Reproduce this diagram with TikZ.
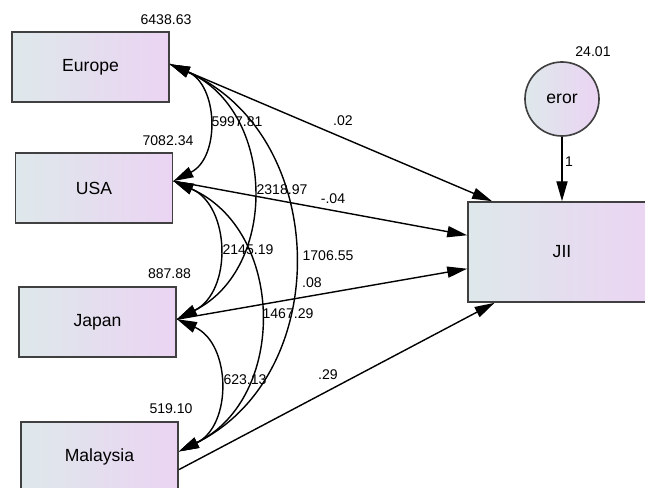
\documentclass[tikz,border=0pt]{standalone}
\usepackage{fontspec}
\setmainfont{Liberation Sans}
\usetikzlibrary{arrows.meta}
\definecolor{cajaIzq}{RGB}{222,232,235}
\definecolor{cajaDer}{RGB}{235,212,243}

\begin{document}
\begin{tikzpicture}[x=0.03cm, y=-0.03cm, >={Triangle[length=17pt,width=9.5pt]}]
      \def\bw{4.72cm}
      \def\bh{2.1cm}
      \tikzset{
        caja/.style={draw=black!75, line width=1.4pt, left color=cajaIzq, right color=cajaDer,
          minimum width=\bw, minimum height=\bh, font=\fontsize{15}{18}\selectfont},
        num/.style={font=\fontsize{12}{14}\selectfont},
        ruta/.style={line width=1.2pt, ->},
        cov/.style={line width=1.2pt, <->, bend left=65, looseness=1.15},
      }
      \useasboundingbox (0,0) rectangle (645,488);

      % Variables observadas
      \node[caja] (eu) at (90.5,67) {Europe};
      \node[caja] (us) at (94,188) {USA};
      \node[caja] (jp) at (97.5,322) {Japan};
      \node[caja] (ma) at (99.5,457) {Malaysia};

      % Variable dependiente y error
      \node[caja, minimum width=5.64cm, minimum height=3cm] (jii) at (562,252) {JII};
      \node[caja, circle, minimum size=2.22cm, inner sep=0pt] (er) at (562,99) {eror};

      % Varianzas
      \node[num] (veu) at (166,20) {6438.63};
      \node[num] (vus) at (168,141) {7082.34};
      \node[num] (vjp) at (169.5,274) {887.88};
      \node[num] (vma) at (171,409) {519.10};
      \node[num] (ver) at (593,52) {24.01};

      % Rutas hacia JII
      \foreach \s/\t in {eu.2/jii.144, us.5/jii.170, jp.2/jii.190, ma.351/jii.217} {
        \draw[ruta] (\s) -- (\t);
      }
      \draw[ruta] (er) -- (jii);

      % Covarianzas
      \draw[cov] (eu.2) to (us.5);
      \draw[cov] (eu.2) to (jp.2);
      \draw[cov] (eu.2) to (ma.4);
      \draw[cov] (us.5) to (jp.2);
      \draw[cov] (us.5) to (ma.4);
      \draw[cov] (jp.2) to (ma.4);

      % Pesos
      \node[num] (w1) at (343,121) {.02};
      \node[num] (w2) at (333,199) {-.04};
      \node[num] (w3) at (312,283) {.08};
      \node[num] (w4) at (328,375) {.29};
      \node[num] (w5) at (569,162) {1};

      % Valores de covarianza
      \node[num] (c1) at (237,122) {5997.81};
      \node[num] (c2) at (282,190) {2318.97};
      \node[num] (c3) at (248,250) {2145.19};
      \node[num] (c4) at (328,256) {1706.55};
      \node[num] (c5) at (288,314) {1467.29};
      \node[num] (c6) at (245,380) {623.13};
    \end{tikzpicture}
\end{document}
